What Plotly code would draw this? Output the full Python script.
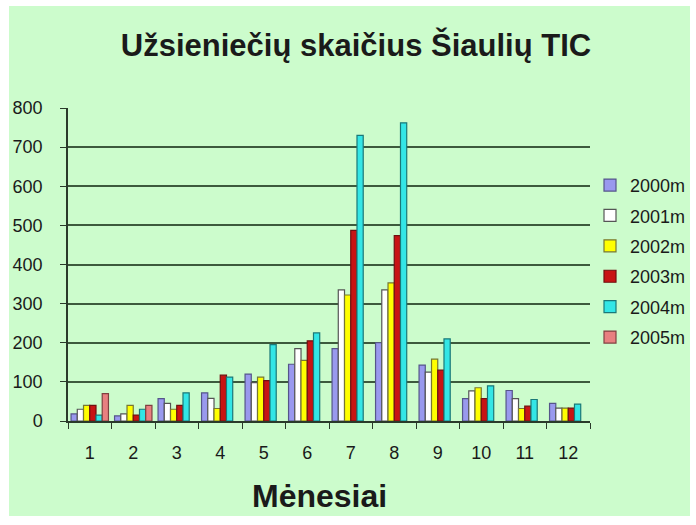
import plotly.graph_objects as go

months = ["1", "2", "3", "4", "5", "6", "7", "8", "9", "10", "11", "12"]
y2000 = [18, 13, 57, 72, 120, 145, 185, 200, 143, 57, 78, 45]
y2001 = [30, 18, 45, 58, 98, 185, 335, 335, 125, 77, 57, 33]
y2002 = [40, 40, 30, 32, 112, 155, 322, 353, 158, 85, 32, 33]
y2003 = [40, 15, 40, 117, 103, 205, 487, 474, 130, 57, 38, 33]
y2004 = [15, 30, 72, 112, 195, 225, 730, 762, 210, 90, 55, 43]
y2005 = [70, 40, None, None, None, None, None, None, None, None, None, None]

series = [
    ("2000m", y2000, "#9999EE", "#55558a"),
    ("2001m", y2001, "#FFFFFF", "#555555"),
    ("2002m", y2002, "#FFFF00", "#777733"),
    ("2003m", y2003, "#C81414", "#701010"),
    ("2004m", y2004, "#33E6E6", "#1a7878"),
    ("2005m", y2005, "#E88080", "#804040"),
]

FONT = "Liberation Sans, Arial, sans-serif"

fig = go.Figure()
for name, vals, col, lc in series:
    fig.add_trace(go.Bar(
        x=months, y=vals, name=name, legendgroup=name,
        marker=dict(color=col, line=dict(color=lc, width=1.2)),
    ))

fig.update_layout(
    width=696, height=525,
    margin=dict(l=68, r=106, t=108, b=104, autoexpand=False),
    paper_bgcolor="white",
    plot_bgcolor="#CCFCCC",
    barmode="group",
    bargap=0.14,
    bargroupgap=0.0,
    font=dict(family=FONT, color="#1a1a1a"),
    title=dict(
        text="<b>Užsieniečių skaičius Šiaulių TIC</b>",
        font=dict(size=31, family=FONT, color="#1a1a1a"),
        x=356 / 696, xanchor="center", xref="container",
        y=1 - 45 / 525, yanchor="middle", yref="container",
    ),
    legend=dict(
        x=1.0, xanchor="left", y=0.51, yanchor="middle",
        font=dict(size=18, family=FONT, color="#1a1a1a"),
        bgcolor="rgba(0,0,0,0)",
        tracegroupgap=4,
        itemwidth=30,
    ),
    showlegend=True,
)

fig.update_xaxes(
    automargin=False,
    showline=True, linecolor="#2a3a2a", linewidth=1.5,
    ticks="outside", tickson="boundaries", ticklen=6, tickcolor="#2a3a2a",
    tickfont=dict(size=18, family=FONT, color="#1a1a1a"),
    ticklabelstandoff=15,
    showgrid=False,
)
fig.update_yaxes(
    automargin=False,
    range=[0, 800], dtick=100, tick0=0,
    showline=True, linecolor="#2a3a2a", linewidth=1.5,
    ticks="outside", ticklen=6, tickcolor="#2a3a2a",
    tickfont=dict(size=18, family=FONT, color="#1a1a1a"),
    ticklabelstandoff=14,
    showgrid=True, gridcolor="#3d5a3d", gridwidth=2,
    zeroline=False,
)

# green chart-area background with thin white border
fig.add_shape(
    type="rect", xref="paper", yref="paper", layer="below",
    x0=(9 - 68) / 522, x1=(690 - 68) / 522,
    y0=(421 - 516) / 313, y1=(421 - 6) / 313,
    fillcolor="#CCFCCC", line=dict(width=0),
)

fig.add_annotation(
    text="<b>Mėnesiai</b>", xref="paper", yref="paper",
    x=(319 - 68) / 522, y=(421 - 496) / 313,
    xanchor="center", yanchor="middle", showarrow=False,
    font=dict(size=32, family=FONT, color="#1a1a1a"),
)

fig.write_html(
    "out.html",
    config={"displayModeBar": False},
    post_script="document.body.style.margin='0';document.body.style.padding='0';",
)
